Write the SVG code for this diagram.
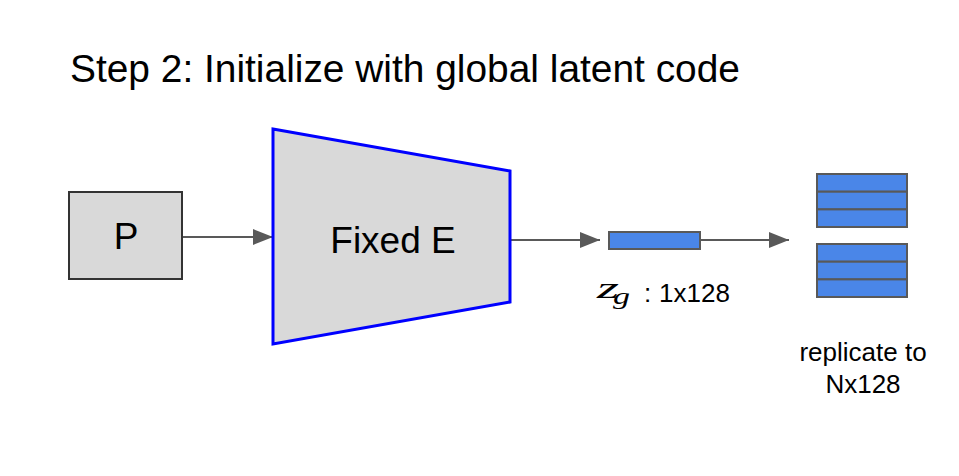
<svg xmlns="http://www.w3.org/2000/svg" width="959" height="476" viewBox="0 0 959 476">
<defs>
<marker id="ah" viewBox="0 0 20 16" refX="20" refY="8" markerWidth="20" markerHeight="16" markerUnits="userSpaceOnUse" orient="auto">
<path d="M0,0 L20,8 L0,16 Z" fill="#595959"/>
</marker>
</defs>
<style>
.t{font-family:"Liberation Sans",Arial,sans-serif;fill:#000}
.gray{fill:#d9d9d9}
.conn{stroke:#595959;stroke-width:2;fill:none}
.blk{fill:#4a86e8;stroke:#595959;stroke-width:2}
.math{font-family:"Liberation Serif","Times New Roman",serif;font-style:italic;fill:#000}
</style>
<rect width="959" height="476" fill="#ffffff"/>
<text class="t" x="70" y="82" font-size="38" textLength="670" lengthAdjust="spacingAndGlyphs">Step 2: Initialize with global latent code</text>
<g id="connectors">
<line class="conn" x1="182" y1="237" x2="273" y2="237" marker-end="url(#ah)"/>
<line class="conn" x1="511" y1="240" x2="600" y2="240" marker-end="url(#ah)"/>
<line class="conn" x1="700" y1="240" x2="789" y2="240" marker-end="url(#ah)"/>
</g>
<g id="node-P">
<rect class="gray" x="69" y="192" width="113" height="87" stroke="#333333" stroke-width="2"/>
<text class="t" x="126" y="249" font-size="37" text-anchor="middle">P</text>
</g>
<g id="node-E">
<polygon class="gray" points="273,129 510,171 510,302 273,344" stroke="#0000ff" stroke-width="3" stroke-linejoin="miter"/>
<text class="t" x="393" y="253" font-size="37" text-anchor="middle">Fixed E</text>
</g>
<g id="node-zg">
<rect class="blk" x="609" y="232" width="91" height="17"/>
<text class="math" x="597" y="298" font-size="30" textLength="22" lengthAdjust="spacingAndGlyphs">z</text>
<text class="math" x="613" y="304" font-size="23" textLength="17" lengthAdjust="spacingAndGlyphs">g</text>
<text class="t" x="644" y="302" font-size="26">:</text>
<text class="t" x="659" y="302" font-size="26">1x128</text>
</g>
<g id="node-replicated">
<rect class="blk" x="817" y="174" width="90" height="17.7"/>
<rect class="blk" x="817" y="191.7" width="90" height="17.7"/>
<rect class="blk" x="817" y="209.4" width="90" height="17.6"/>
<rect class="blk" x="817" y="244" width="90" height="17.7"/>
<rect class="blk" x="817" y="261.7" width="90" height="17.7"/>
<rect class="blk" x="817" y="279.4" width="90" height="17.6"/>
<text class="t" x="863" y="361" font-size="26" text-anchor="middle">replicate to</text>
<text class="t" x="863" y="393" font-size="26" text-anchor="middle">Nx128</text>
</g>
</svg>
